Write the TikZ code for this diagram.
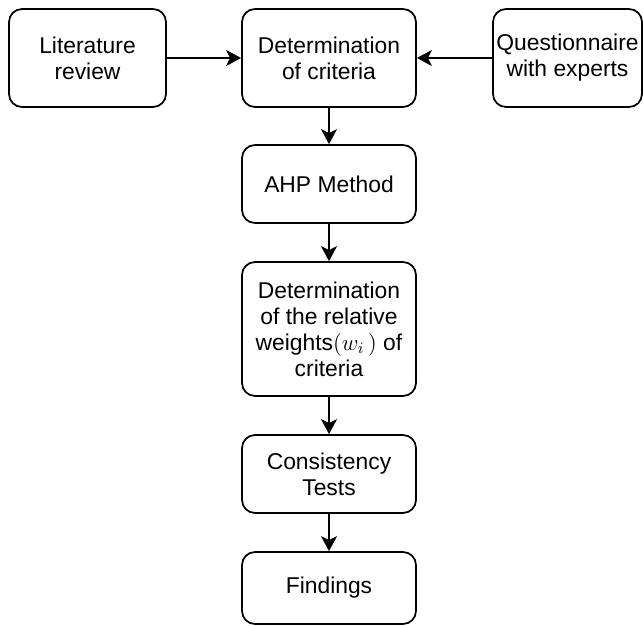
\documentclass[tikz,border=0pt]{standalone}
\usepackage{fix-cm}
\usepackage{fontspec}
\setmainfont{Liberation Sans}
\usepackage{tikz}
\usetikzlibrary{arrows.meta}

\begin{document}
\begin{tikzpicture}[x=0.02cm, y=-0.02cm,
        stepbox/.style={draw=black, line width=1pt, rectangle, rounded corners=0.26cm, align=center,
            inner sep=0pt, minimum width=3.48cm, minimum height=1.56cm, font=\fontsize{13}{14.8}\selectfont},
        flow/.style={line width=1pt, -{Stealth[length=0.3cm, width=0.32cm, inset=0.08cm]}}]
            \useasboundingbox (0,0) rectangle (643,626);
            % top row
            \node[stepbox, minimum width=3.14cm, minimum height=1.96cm] (literature) at (87.5,58) {Literature\\review};
            \node[stepbox, minimum height=1.96cm] (criteria) at (329,58) {Determination\\of criteria};
            \node[stepbox, minimum width=2.98cm, minimum height=1.96cm] (experts) at (567.5,58) {Questionnaire\\with experts};
            % main column
            \node[stepbox] (ahp) at (329,184) {AHP Method};
            \node[stepbox, minimum height=2.68cm] (weights) at (329,329) {Determination\\of the relative\\weights$(w_i\,)$ of\\criteria};
            \node[stepbox] (consistency) at (329,474) {Consistency\\Tests};
            \node[stepbox, minimum height=1.44cm] (findings) at (329,588) {Findings};

            \draw[flow] (literature) -- (criteria);
            \draw[flow] (experts) -- (criteria);
            \draw[flow] (criteria) -- (ahp);
            \draw[flow] (ahp) -- (weights);
            \draw[flow] (weights) -- (consistency);
            \draw[flow] (consistency) -- (findings);
        \end{tikzpicture}
\end{document}
